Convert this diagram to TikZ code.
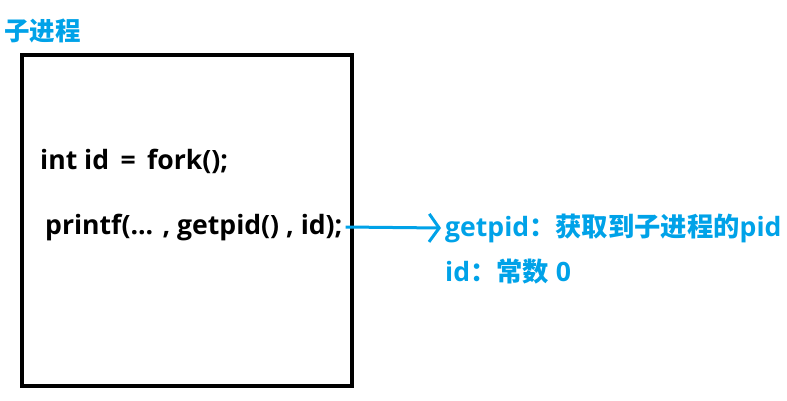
\documentclass[tikz,border=0pt]{standalone}
\usepackage{fontspec}
\setmainfont{Open Sans}
\newfontfamily\cjk{Noto Sans CJK SC}
\usetikzlibrary{arrows.meta}
\definecolor{cblue}{RGB}{0,162,232}
\newcommand\zh[1]{{\cjk\fontsize{26.3}{28}\selectfont\bfseries #1}}
\tikzset{
  code/.style={font=\bfseries\fontsize{26.6}{30}\selectfont, inner sep=0pt, anchor=west, text=black},
  note/.style={font=\bfseries\fontsize{26.6}{30}\selectfont, inner sep=0pt, anchor=west, text=cblue},
}
\begin{document}
\begin{tikzpicture}[x=1pt,y=-1pt]
\useasboundingbox (0,0) rectangle (787,400);
\node[note, font=\bfseries\cjk\fontsize{25.5}{28}\selectfont] (title) at (4,31) {子进程};
\draw[line width=4pt] (22,55) rectangle (352,386);
\node[code] (l1) at (40,161) {int id \,=\, fork();};
\node[code] (l2) at (45,228) {printf(... , getpid() , id);};
\node[note] (n1) at (445,228) {getpid\zh{：获取到子进程的}pid};
\node[note] (n2) at (445,272) {id\zh{：常数} 0};
\draw[cblue, line width=3pt, -{Straight Barb[length=10pt,width=28pt,line width=3pt]}] (l2.east) ++(3,-1) coordinate (s) -- (n1.west -| 441,0 |- s);
\end{tikzpicture}
\end{document}
